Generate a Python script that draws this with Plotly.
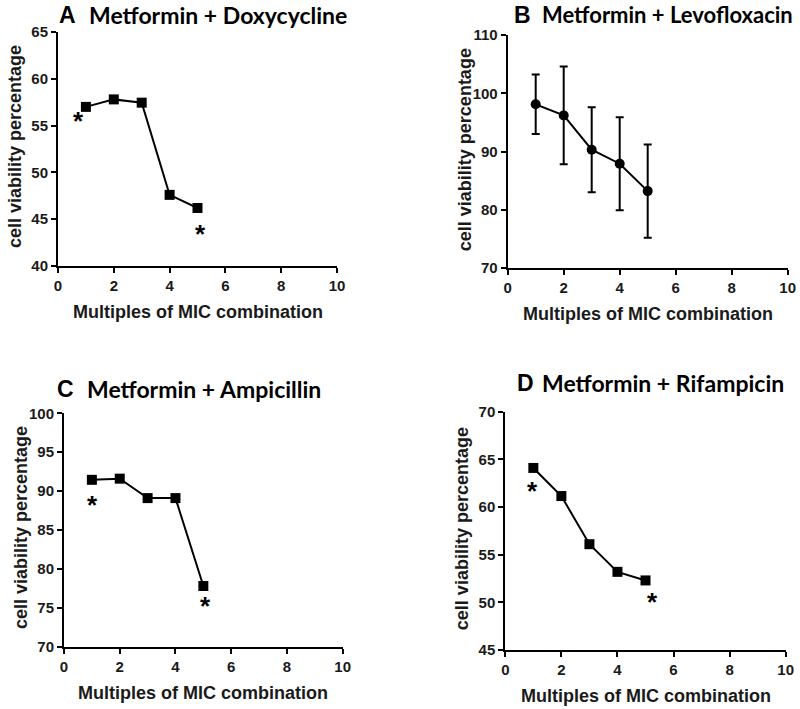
import plotly.graph_objects as go

# ---------------- data ----------------
x_mult = [1, 2, 3, 4, 5]

doxy_vals = [57.0, 57.8, 57.45, 47.6, 46.2]
levo_vals = [98.1, 96.2, 90.3, 87.9, 83.2]
levo_err = [5.1, 8.4, 7.3, 8.0, 8.0]
ampi_vals = [91.45, 91.6, 89.1, 89.1, 77.8]
rifa_vals = [64.1, 61.15, 56.1, 53.2, 52.3]

# significance asterisks (x, y) per panel
doxy_star_x = [0.73, 5.09]
doxy_star_y = [55.8, 43.7]
ampi_star_x = [1.03, 5.06]
ampi_star_y = [88.6, 75.6]
rifa_star_x = [0.98, 5.24]
rifa_star_y = [62.0, 50.4]

panel_letters = ["A", "B", "C", "D"]
panel_titles = ["Metformin + Doxycycline", "Metformin + Levofloxacin",
                "Metformin + Ampicillin", "Metformin + Rifampicin"]
x_title = "Multiples of MIC combination"
y_title = "cell viability percentage"
x_ticks = [0, 2, 4, 6, 8, 10]

# ---------------- layout geometry ----------------
W, H = 800, 709
# pixel boxes: (left, right, top, bottom)
boxes = {
    "A": (58, 337, 32, 266),
    "B": (507.7, 787.7, 35, 268),
    "C": (64, 342.7, 413.3, 646.7),
    "D": (505.3, 785.7, 411.7, 650),
}
yranges = {"A": [40, 65], "B": [70, 110], "C": [70, 100], "D": [45, 70]}
ydticks = {"A": 5, "B": 10, "C": 5, "D": 5}
title_pos = {  # letter x, title text x, title y, title size (px)
    "A": (57, 87, 15, 23),
    "B": (511.5, 540, 15, 22),
    "C": (55, 85, 389, 23),
    "D": (515, 540, 383, 23),
}

TICKFONT = dict(family="Liberation Sans", size=15, color="#1a1a1a", weight="bold")
AXTITLEFONT = dict(family="Liberation Sans", size=18, color="#1a1a1a", weight="bold")

fig = go.Figure()

def px2x(p):
    return p / W

def px2y(p):
    return 1 - p / H

series = {
    "A": (doxy_vals, None, "square", (doxy_star_x, doxy_star_y)),
    "B": (levo_vals, levo_err, "circle", None),
    "C": (ampi_vals, None, "square", (ampi_star_x, ampi_star_y)),
    "D": (rifa_vals, None, "square", (rifa_star_x, rifa_star_y)),
}

annotations = []
for i, key in enumerate(panel_letters):
    n = "" if i == 0 else str(i + 1)
    xa, ya = "x" + n, "y" + n
    l, r, t, b = boxes[key]
    vals, err, sym, stars = series[key]
    tr = dict(
        x=x_mult, y=vals, mode="lines+markers",
        line=dict(color="black", width=2),
        marker=dict(symbol=sym, size=10, color="black"),
        xaxis=xa, yaxis=ya, showlegend=False, hoverinfo="skip",
        cliponaxis=False,
    )
    if err is not None:
        tr["error_y"] = dict(type="data", array=err, visible=True,
                             color="black", thickness=2, width=4)
    fig.add_trace(go.Scatter(**tr))
    if stars is not None:
        for sx, sy in zip(stars[0], stars[1]):
            annotations.append(dict(
                text="<b>*</b>", x=sx, y=sy, xref=xa, yref=ya,
                xanchor="center", yanchor="middle", showarrow=False,
                yshift=-3,
                font=dict(family="Liberation Sans", size=26, color="black")))
    axcommon = dict(
        showgrid=False, zeroline=False, showline=True, linecolor="black",
        linewidth=2, ticks="outside", ticklen=5, tickwidth=2, tickcolor="black",
        tickfont=TICKFONT, automargin=False,
    )
    fig.layout["xaxis" + n] = dict(
        domain=[px2x(l), px2x(r)], range=[0, 10], tickvals=x_ticks,
        anchor=ya, **axcommon)
    lo, hi = yranges[key]
    fig.layout["yaxis" + n] = dict(
        domain=[px2y(b), px2y(t)], range=[lo, hi], dtick=ydticks[key],
        tick0=lo, anchor=xa, **axcommon)

    # axis titles
    annotations.append(dict(
        text=x_title, xref="paper", yref="paper",
        x=px2x((l + r) / 2), y=px2y(b + 46), xanchor="center", yanchor="middle",
        showarrow=False, font=AXTITLEFONT))
    annotations.append(dict(
        text=y_title, xref="paper", yref="paper", textangle=-90,
        x=px2x(l - 43), y=px2y((t + b) / 2 - 2), xanchor="center", yanchor="middle",
        showarrow=False, font=AXTITLEFONT))
    # panel titles
    lx, tx, ty, ts = title_pos[key]
    annotations.append(dict(
        text="<b>" + key + "</b>", xref="paper", yref="paper",
        x=px2x(lx), y=px2y(ty), xanchor="left", yanchor="middle",
        showarrow=False, font=dict(family="Liberation Sans", size=23, color="black")))
    annotations.append(dict(
        text="<b>" + panel_titles[i] + "</b>", xref="paper", yref="paper",
        x=px2x(tx), y=px2y(ty), xanchor="left", yanchor="middle",
        showarrow=False, font=dict(family="Lato", size=ts, color="black")))

fig.update_layout(
    width=W, height=H, margin=dict(l=0, r=0, t=0, b=0, autoexpand=False),
    paper_bgcolor="white", plot_bgcolor="white",
    annotations=annotations,
)

fig.write_html(
    "out.html",
    config={"displayModeBar": False},
    post_script="document.body.style.margin='0';document.body.style.overflow='hidden';",
)
